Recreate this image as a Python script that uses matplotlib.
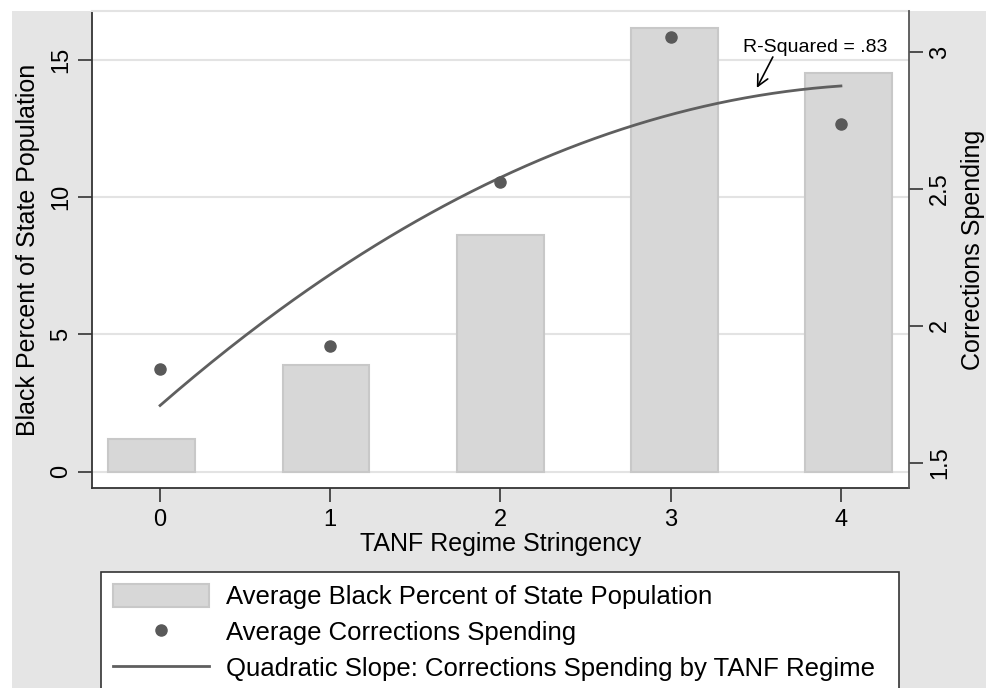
import numpy as np
import matplotlib
matplotlib.use("Agg")
import matplotlib.pyplot as plt
from matplotlib.patches import Rectangle

plt.rcParams['font.family'] = ['Liberation Sans', 'DejaVu Sans']

# Data
regimes = [0, 1, 2, 3, 4]
bar_centers = [-0.05, 0.975, 2.0, 3.02, 4.045]
black_pct = [1.17, 3.88, 8.62, 16.17, 14.53]
corrections = [1.842, 1.926, 2.525, 3.055, 2.737]
r_squared_label = "R-Squared = .83"

left_ticks = [0, 5, 10, 15]
right_ticks = [1.5, 2, 2.5, 3]
right_tick_labels = ["1.5", "2", "2.5", "3"]

# Quadratic fit of corrections spending on regime
coef = np.polyfit(regimes, corrections, 2)
xs = np.linspace(0, 4, 200)
fit = np.polyval(coef, xs)

W, H = 987, 688
fig = plt.figure(figsize=(W / 100, H / 100), dpi=100, facecolor="white")

# gray graph region
bg = Rectangle((12 / W, 0), 1 - 12 / W, 1 - 11 / H, transform=fig.transFigure,
               facecolor="#e5e5e5", edgecolor="none", zorder=-10)
fig.patches.append(bg)

ax = fig.add_axes([92 / W, 1 - 488 / H, (909 - 92) / W, (488 - 11) / H])
ax.set_facecolor("white")
ax.set_xlim(-0.4, 4.4)
ax.set_ylim(-0.60, 16.79)

ax.bar(bar_centers, black_pct, width=0.51, color="#d7d7d7", edgecolor="#c8c8c8",
       linewidth=1.5, zorder=2, label="Average Black Percent of State Population")
ax.set_yticks(left_ticks)
ax.set_yticklabels([str(t) for t in left_ticks], rotation=90, va="center")
ax.grid(axis="y", color="#e3e3e3", linewidth=1.5, zorder=0)
ax.set_axisbelow(True)
ax.set_xticks(regimes)
ax.tick_params(axis="both", labelsize=17, length=10, width=1.2, color="#333333", pad=5)
ax.tick_params(axis="y", pad=4.5)
ax.set_xlabel("TANF Regime Stringency", fontsize=18, labelpad=1)
ax.set_ylabel("Black Percent of State Population", fontsize=18, labelpad=7)

for s in ["left", "bottom"]:
    ax.spines[s].set_color("#333333")
    ax.spines[s].set_linewidth(1.3)
ax.spines["top"].set_color("#e3e3e3")
ax.spines["top"].set_linewidth(1.5)
ax.spines["right"].set_visible(False)

ax2 = ax.twinx()
ax2.set_ylim(1.407, 3.150)
ax2.set_yticks(right_ticks)
ax2.set_yticklabels(right_tick_labels, rotation=90, va="center")
ax2.tick_params(axis="y", labelsize=17, length=10, width=1.2, color="#333333", pad=4.5)
ax2.spines["right"].set_color("#555555")
ax2.spines["right"].set_linewidth(1.3)
for s in ["left", "bottom", "top"]:
    ax2.spines[s].set_visible(False)
ax2.set_ylabel("Corrections Spending", fontsize=18, labelpad=7)

ax2.plot(regimes, corrections, linestyle="none", marker="o", markersize=8,
         color="#595959", zorder=4, label="Average Corrections Spending")
ax2.plot(xs, fit, color="#5f5f5f", linewidth=2, zorder=3,
         label="Quadratic Slope: Corrections Spending by TANF Regime")

ax2.text(3.846, 3.018, r_squared_label, fontsize=14, ha="center", va="center")
ax2.annotate("", xy=(3.506, 2.869), xytext=(3.60, 2.982),
             arrowprops=dict(arrowstyle="->", color="black", lw=1.2,
                             shrinkA=0, shrinkB=0, mutation_scale=20))

h1, l1 = ax.get_legend_handles_labels()
h2, l2 = ax2.get_legend_handles_labels()
leg = fig.legend(h1 + h2, l1 + l2, loc="upper left",
                 bbox_to_anchor=(101 / W, 0, 798 / W, 1 - 572 / H),
                 mode="expand", borderaxespad=0, fontsize=18.5,
                 frameon=True, fancybox=False, edgecolor="#333333",
                 facecolor="white", framealpha=1, handlelength=3.74,
                 handleheight=1.0, handletextpad=0.66, borderpad=0.45,
                 labelspacing=0.42)
leg.get_frame().set_linewidth(1.2)

fig.savefig("out.png", dpi=100, facecolor=fig.get_facecolor())
